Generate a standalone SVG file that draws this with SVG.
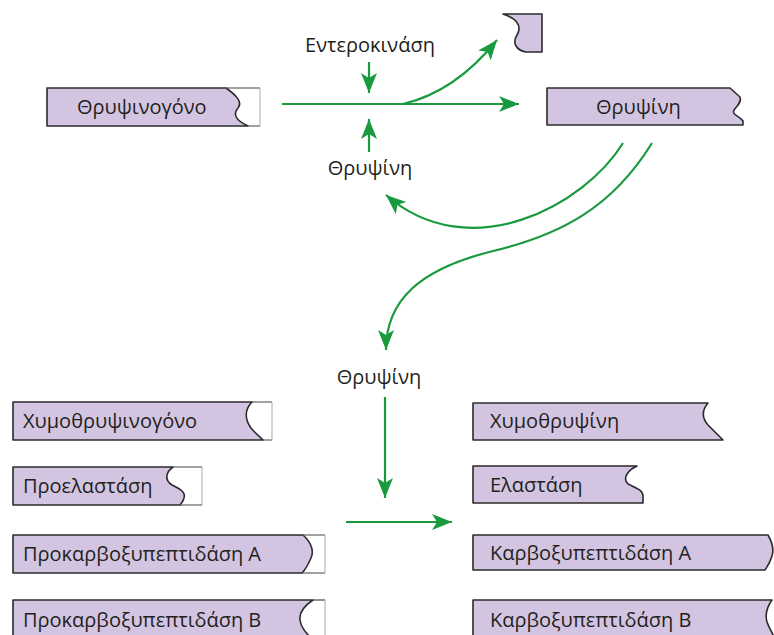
<svg xmlns="http://www.w3.org/2000/svg" width="774" height="635" viewBox="0 0 774 635">
<style>
.box{fill:#d3c5e1;stroke:#2b2b2b;stroke-width:1.6;stroke-linejoin:round}
.ext{fill:none;stroke:#444;stroke-width:1.2}
.extl{fill:none;stroke:#aaa;stroke-width:1}
.t{font-family:"Open Sans","Noto Sans",sans-serif;font-size:20px;fill:#231f20}
.c{text-anchor:middle}
.g{fill:none;stroke:#1a9a3e;stroke-width:2.2}
</style>
<defs>
<marker id="ah" markerUnits="userSpaceOnUse" markerWidth="22" markerHeight="18" viewBox="0 0 22 18" refX="20" refY="9" orient="auto">
<path d="M0,1 L20,9 L0,17 L5,9 Z" fill="#1a9a3e"/>
</marker>
</defs>
<rect width="774" height="635" fill="#fff"/>
<g id="connectors">
<path class="g" d="M282,104 L519,104" marker-end="url(#ah)"/>
<path class="g" d="M403,104 Q455,92 497,40" marker-end="url(#ah)"/>
<path class="g" d="M369,62 L369,93" marker-end="url(#ah)"/>
<path class="g" d="M369,152 L369,119" marker-end="url(#ah)"/>
<path class="g" d="M623,143 C585,205 470,268 386,195" marker-end="url(#ah)"/>
<path class="g" d="M652,143 C612,208 560,235 493,251 C420,269 386,300 386,350" marker-end="url(#ah)"/>
<path class="g" d="M385,397 L385,498" marker-end="url(#ah)"/>
<path class="g" d="M346,522 L452,522" marker-end="url(#ah)"/>
</g>
<g id="trypsinogen">
<path class="box" d="M47,88 L226,88 C236,95 243,102 238,108 C233,114 235,120 248,126 L47,126 Z"/>
<path class="ext" d="M226,88 L260,88 M248,126 L260,126"/>
<path class="extl" d="M260,88 L260,126"/>
<text class="t" x="77" y="114">Θρυψινογόνο</text>
</g>
<g id="fragment">
<path class="box" d="M503,14 C515,18 523,25 517,35 C512,43 516,50 526,52 L542,52 L542,14 Z"/>
</g>
<g id="trypsin">
<path class="box" d="M547,88 L730,88 L740,97 C742,102 737,106 734,110 C731,115 740,116 743,121 L743,125 L547,125 Z"/>
<text class="t" x="596" y="114">Θρυψίνη</text>
</g>
<g id="enterokinase">
<text class="t c" x="370" y="52">Εντεροκινάση</text>
</g>
<g id="trypsin-label1">
<text class="t c" x="370" y="175">Θρυψίνη</text>
</g>
<g id="trypsin-label2">
<text class="t c" x="379" y="384">Θρυψίνη</text>
</g>
<g id="chymotrypsinogen">
<path class="box" d="M13,402 L252,402 C244,410 245,420 251,428 C256,434 260,437 263,440 L13,440 Z"/>
<path class="ext" d="M252,402 L272,402 M263,440 L272,440"/>
<path class="extl" d="M272,402 L272,440"/>
<text class="t" x="23" y="428">Χυμοθρυψινογόνο</text>
</g>
<g id="proelastase">
<path class="box" d="M13,467 L173,467 C166,472 164,480 172,485 C180,489 186,492 184,498 C183,502 181,504 180,505 L13,505 Z"/>
<path class="ext" d="M173,467 L202,467 M180,505 L202,505"/>
<path class="extl" d="M202,467 L202,505"/>
<text class="t" x="23" y="493">Προελαστάση</text>
</g>
<g id="procarboxypeptidaseA">
<path class="box" d="M13,535 L303,535 C312,543 314,552 311,558 C308,565 305,570 302,573 L13,573 Z"/>
<path class="ext" d="M303,535 L325,535 M302,573 L325,573"/>
<path class="extl" d="M325,535 L325,573"/>
<text class="t" x="23" y="561">Προκαρβοξυπεπτιδάση Α</text>
</g>
<g id="procarboxypeptidaseB">
<path class="box" d="M13,600 L313,600 C304,606 299,613 300,620 C301,628 306,633 310,637 L13,637 Z"/>
<path class="ext" d="M313,600 L325,600"/>
<path class="extl" d="M325,600 L325,635"/>
<text class="t" x="23" y="627">Προκαρβοξυπεπτιδάση Β</text>
</g>
<g id="chymotrypsin">
<path class="box" d="M473,403 L708,403 C702,410 702,418 708,425 L723,440 L473,440 Z"/>
<text class="t" x="490" y="428">Χυμοθρυψίνη</text>
</g>
<g id="elastase">
<path class="box" d="M473,466 L637,466 C628,470 622,478 628,484 C636,488 643,490 643,496 L643,503 L473,503 Z"/>
<text class="t" x="490" y="492">Ελαστάση</text>
</g>
<g id="carboxypeptidaseA">
<path class="box" d="M473,535 L768,535 C772,542 774,550 772,556 C770,563 767,567 765,570 L473,570 Z"/>
<text class="t" x="490" y="560">Καρβοξυπεπτιδάση Α</text>
</g>
<g id="carboxypeptidaseB">
<path class="box" d="M473,600 L772,600 C767,607 765,615 767,622 C769,628 772,632 774,637 L473,637 Z"/>
<text class="t" x="490" y="627">Καρβοξυπεπτιδάση Β</text>
</g>
</svg>
